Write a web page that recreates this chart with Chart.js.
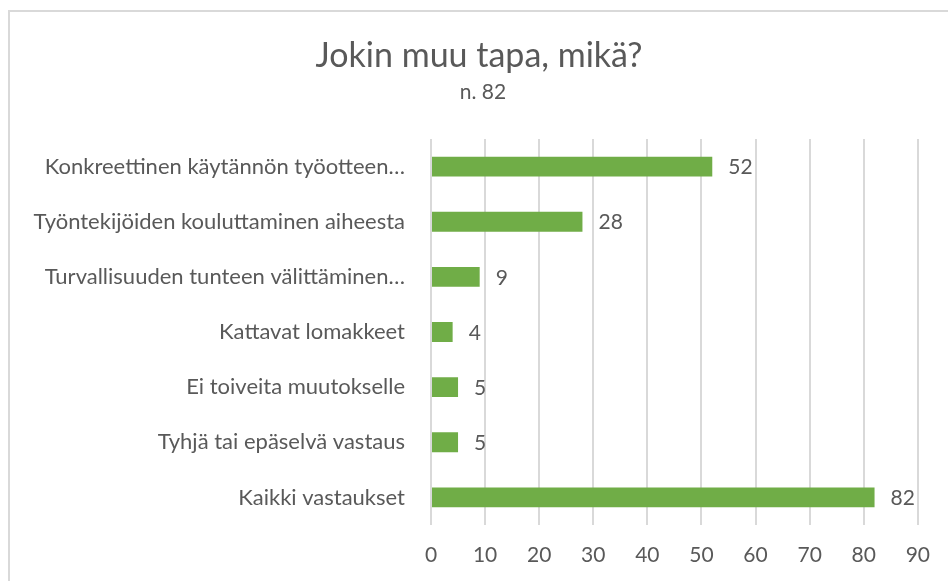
<!DOCTYPE html>
<html>
<head>
<meta charset="utf-8">
<script src="https://cdn.jsdelivr.net/npm/chart.js@4/dist/chart.umd.min.js"></script>
<style>
  html, body { margin: 0; padding: 0; background: #fff; }
  #wrap { position: absolute; left: 0; top: 0; width: 948px; height: 581px; }
</style>
</head>
<body>
<div id="wrap"><canvas id="chart" width="948" height="581"></canvas></div>
<script>
const titleText = 'Jokin muu tapa, mikä?';
const subtitleText = 'n. 82';
const categories = [
    'Konkreettinen käytännön työotteen…',
    'Työntekijöiden kouluttaminen aiheesta',
    'Turvallisuuden tunteen välittäminen…',
    'Kattavat lomakkeet',
    'Ei toiveita muutokselle',
    'Tyhjä tai epäselvä vastaus',
    'Kaikki vastaukset'
];
const values = [52, 28, 9, 4, 5, 5, 82];
const axisMin = 0;
const axisMax = 90;
const axisStep = 10;

const fontFamily = 'Lato, "Open Sans", sans-serif';
const textColor = '#595959';

// frame along top and left edge, plus the centred heading
const framePlugin = {
    id: 'frame',
    beforeDraw(chart) {
        const c = chart.ctx;
        c.save();
        c.fillStyle = '#fff';
        c.fillRect(0, 0, chart.width, chart.height);
        c.strokeStyle = '#d9d9d9';
        c.lineWidth = 2;
        c.beginPath();
        c.moveTo(9, chart.height);
        c.lineTo(9, 11);
        c.lineTo(chart.width, 11);
        c.stroke();

        c.fillStyle = textColor;
        c.textAlign = 'center';
        c.textBaseline = 'alphabetic';
        c.font = '34px ' + fontFamily;
        c.fillText(titleText, 479, 67);
        c.font = '21px ' + fontFamily;
        c.fillText(subtitleText, 483, 99);
        c.restore();
    }
};

// value labels at bar ends
const valueLabels = {
    id: 'valueLabels',
    afterDatasetsDraw(chart) {
        const c = chart.ctx;
        const meta = chart.getDatasetMeta(0);
        c.save();
        c.font = '21px ' + fontFamily;
        c.fillStyle = textColor;
        c.textAlign = 'left';
        c.textBaseline = 'middle';
        meta.data.forEach((bar, i) => {
            c.fillText(String(values[i]), bar.x + 16, bar.y + 1);
        });
        c.restore();
    }
};

new Chart(document.getElementById('chart'), {
    type: 'bar',
    data: {
        labels: categories,
        datasets: [{
            data: values,
            backgroundColor: '#70ad47',
            borderWidth: 0,
            barPercentage: 0.72,
            categoryPercentage: 0.5
        }]
    },
    options: {
        indexAxis: 'y',
        responsive: false,
        animation: false,
        layout: { padding: { left: 0, right: 30, top: 139, bottom: 0 } },
        plugins: {
            legend: { display: false },
            tooltip: { enabled: false },
            title: { display: false }
        },
        scales: {
            x: {
                min: axisMin,
                max: axisMax,
                ticks: {
                    stepSize: axisStep,
                    color: textColor,
                    font: { family: fontFamily, size: 21 },
                    padding: 18
                },
                grid: { color: '#d9d9d9', lineWidth: 2, drawTicks: false },
                border: { display: false },
                afterFit(scale) { scale.height = 56; }
            },
            y: {
                ticks: {
                    color: textColor,
                    font: { family: fontFamily, size: 22 },
                    padding: 18
                },
                grid: { display: false },
                border: { display: false },
                afterFit(scale) { scale.width = 431; }
            }
        }
    },
    plugins: [framePlugin, valueLabels]
});
</script>
</body>
</html>
